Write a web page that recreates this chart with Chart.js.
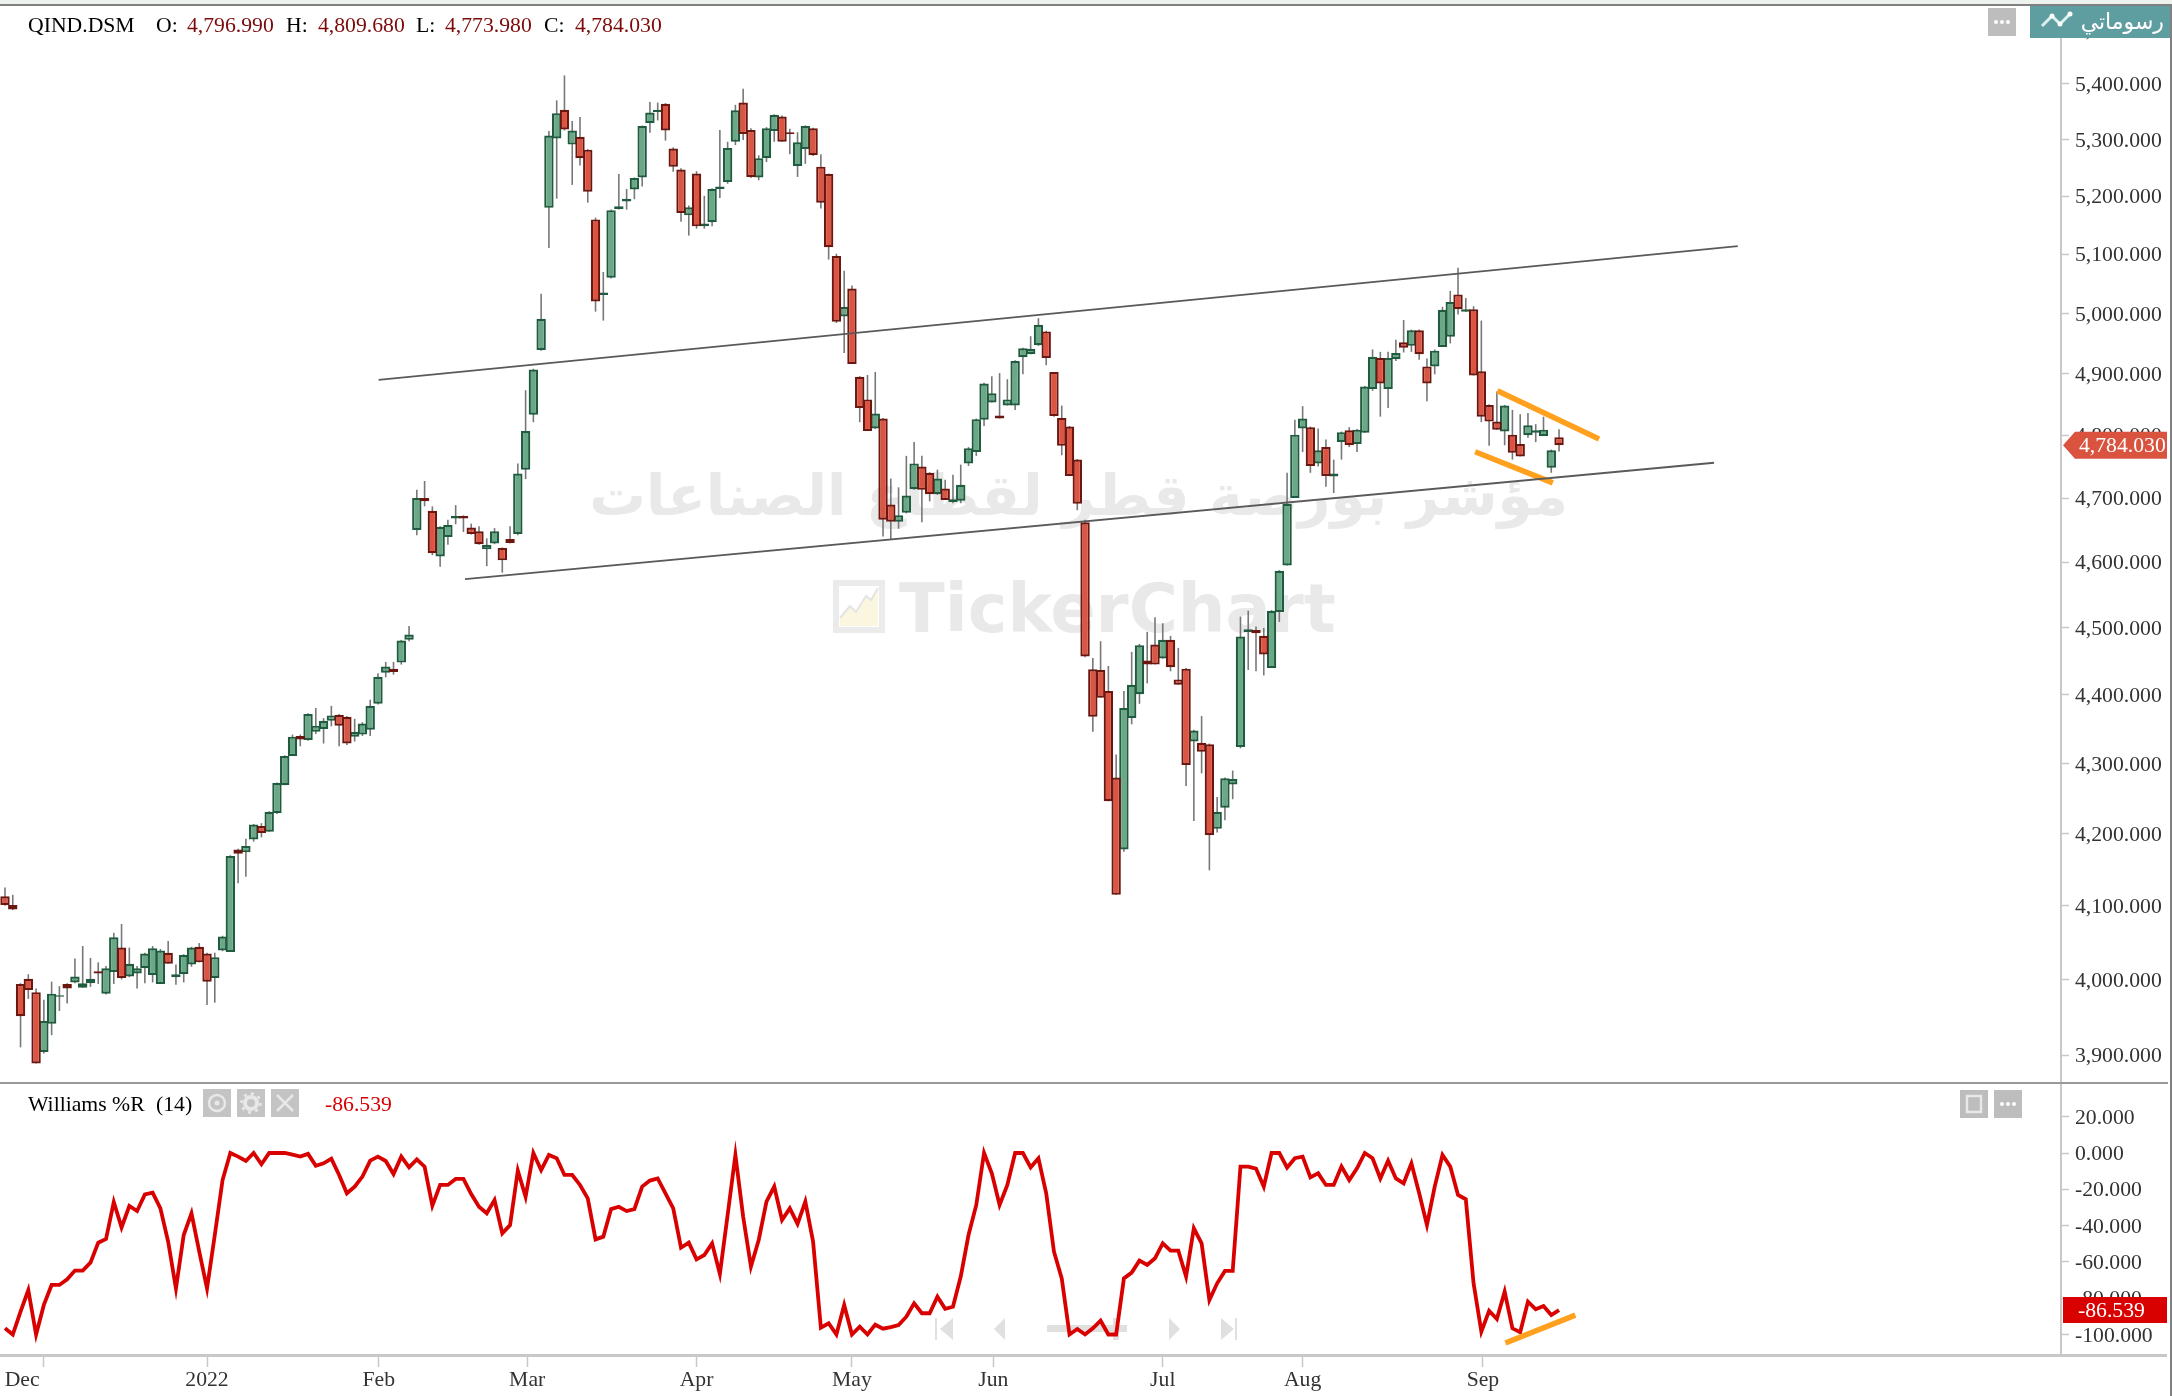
<!DOCTYPE html>
<html lang="ar"><head><meta charset="utf-8">
<title>QIND.DSM</title>
<script src="https://cdn.jsdelivr.net/npm/chart.js@4/dist/chart.umd.js"></script>
<style>
html,body{margin:0;padding:0;background:#fff;width:2172px;height:1396px;overflow:hidden}
#stage{position:relative;width:2172px;height:1396px;overflow:hidden;font-family:'Liberation Serif',serif;font-size:21.7px}
canvas{position:absolute;left:0}
#c1{top:0;z-index:2}#c2{top:1083px;z-index:2}
.t{position:absolute;white-space:pre;line-height:24px;z-index:3}
.wm{position:absolute;white-space:pre;color:#e9e9e9;font-family:'DejaVu Sans',sans-serif;font-weight:bold;z-index:1}
.k{color:#000}.v{color:#7d0a0a}
svg{position:absolute;left:0;top:0}
</style></head><body><div id="stage">
<svg id="under" width="2172" height="1396" style="z-index:1">
 <g fill="none" stroke="#ebebeb" stroke-width="6"><rect x="836" y="583" width="46" height="47"/></g>
 <path d="M840 626 L840 618 L850 606 L856 612 L866 596 L871 600 L878 588 L878 626 Z" fill="#fbf6e0"/>
 <polyline points="840,618 850,606 856,612 866,596 871,600 878,588" fill="none" stroke="#e4e4e4" stroke-width="2"/>
 <g fill="#e0e0e0">
  <rect x="935" y="1318" width="2" height="22"/><path d="M953 1318V1340L940 1329Z"/>
  <path d="M1005 1318V1340L994 1329Z"/>
  <rect x="1047" y="1325" width="80" height="7"/><rect x="1113" y="1318" width="6" height="22"/>
  <path d="M1169 1318V1340L1180 1329Z"/>
  <path d="M1221 1318V1340L1234 1329Z"/><rect x="1235" y="1318" width="2" height="22"/>
 </g>
</svg>
<div class="wm" style="left:598px;top:451px;width:970px;text-align:center;font-size:56.5px;line-height:90px" dir="rtl">مؤشر بورصة قطر لقطاع الصناعات</div>
<div class="wm" style="left:899px;top:569px;font-size:67px;line-height:80px">TickerChart</div>
<canvas id="c1" width="2172" height="1083"></canvas>
<canvas id="c2" width="2172" height="313"></canvas>
<svg id="chrome" width="2172" height="1396" style="z-index:3">
 <rect x="0" y="0" width="2172" height="4" fill="#eef2ee"/>
 <rect x="0" y="4" width="2172" height="2" fill="#808080"/>
 <rect x="2170" y="4" width="2" height="1392" fill="#808080"/>
 <rect x="0" y="1082" width="2168" height="2" fill="#999"/>
 <rect x="2061" y="1354" width="106" height="3" fill="#c8c8c8"/>
 <rect x="2030" y="6" width="140" height="32" fill="#5f9ea0"/>
 <polyline points="2042,26 2052,16 2060,24 2070,14" fill="none" stroke="#dfeeee" stroke-width="3"/>
 <g fill="#fff"><circle cx="2052" cy="16" r="2.5"/><circle cx="2060" cy="24" r="2.5"/><circle cx="2070" cy="14" r="2.5"/></g>
 <rect x="1988" y="8" width="28" height="28" fill="#bdbdbd"/>
 <g fill="#fff"><circle cx="1996" cy="22" r="2"/><circle cx="2002" cy="22" r="2"/><circle cx="2008" cy="22" r="2"/></g>
 <rect x="203" y="1089" width="28" height="28" fill="#c4c4c4"/>
 <circle cx="217" cy="1103" r="8" fill="none" stroke="#e8e8e8" stroke-width="2.5"/><circle cx="217" cy="1103" r="2.5" fill="#e8e8e8"/>
 <rect x="237" y="1089" width="28" height="28" fill="#c4c4c4"/>
 <circle cx="251" cy="1103" r="6" fill="none" stroke="#e8e8e8" stroke-width="4"/>
 <circle cx="251" cy="1103" r="9.5" fill="none" stroke="#e8e8e8" stroke-width="2.5" stroke-dasharray="3 4.4"/>
 <rect x="271" y="1089" width="28" height="28" fill="#c4c4c4"/>
 <path d="M277 1095L293 1111M293 1095L277 1111" stroke="#e8e8e8" stroke-width="2.5"/>
 <rect x="1960" y="1090" width="28" height="28" fill="#bdbdbd"/>
 <rect x="1967" y="1096" width="14" height="16" fill="none" stroke="#e8e8e8" stroke-width="2.5"/>
 <rect x="1994" y="1090" width="28" height="28" fill="#bdbdbd"/>
 <g fill="#fff"><circle cx="2002" cy="1104" r="2"/><circle cx="2008" cy="1104" r="2"/><circle cx="2014" cy="1104" r="2"/></g>
</svg>
<div class="t" style="left:28px;top:13px"><span class="k">QIND.DSM</span></div>
<div class="t k" style="left:156px;top:13px">O:</div><div class="t v" style="left:187px;top:13px">4,796.990</div>
<div class="t k" style="left:286px;top:13px">H:</div><div class="t v" style="left:318px;top:13px">4,809.680</div>
<div class="t k" style="left:416px;top:13px">L:</div><div class="t v" style="left:445px;top:13px">4,773.980</div>
<div class="t k" style="left:544px;top:13px">C:</div><div class="t v" style="left:575px;top:13px">4,784.030</div>
<div class="t k" style="left:28px;top:1092px">Williams %R</div>
<div class="t k" style="left:156px;top:1092px">(14)</div>
<div class="t" style="left:325px;top:1092px;color:#d90000">-86.539</div>
<div class="t" dir="rtl" style="left:2078px;top:6px;width:86px;line-height:32px;color:#fff;font-family:'DejaVu Sans',sans-serif;font-size:22px;text-align:right">رسوماتي</div>
</div>
<script>
const opens=[4113,4101,3994,4001,3983,3904,3941,3977,3994,3996,
3989,3995,4011,3981,4010,4043,4004,4008,4015,4006,
3994,4036,4003,4007,4020,4044,4035,4002,4039,4037,
4178,4174,4192,4211,4203,4229,4269,4311,4340,4334,
4346,4350,4362,4371,4368,4339,4342,4349,4387,4433,
4439,4448,4482,4650,4700,4680,4609,4639,4668,4672,
4654,4648,4620,4629,4622,4636,4644,4745,4833,4939,
5180,5302,5353,5291,5305,5282,5160,5031,5060,5178,
5191,5212,5233,5329,5349,5364,5284,5247,5167,5240,
5148,5155,5213,5225,5296,5366,5317,5233,5267,5315,
5341,5313,5253,5283,5320,5252,5239,5097,4995,5042,
4895,4858,4811,4827,4690,4663,4677,4714,4750,4740,
4706,4715,4694,4696,4755,4773,4825,4853,4832,4848,
4848,4927,4932,4947,4970,4903,4828,4814,4761,4662,
4438,4437,4406,4280,4178,4366,4401,4451,4475,4454,
4482,4423,4439,4332,4330,4328,4207,4237,4270,4324,
4494,4497,4488,4440,4524,4595,4700,4811,4813,4755,
4781,4734,4789,4808,4786,4804,4875,4926,4875,4924,
4952,4946,4972,4912,4912,4944,4961,5032,5003,5007,
4904,4849,4822,4806,4801,4786,4800,4804,4799,4748,4796.99];
const closes=[4101,4095,3951,3986,3889,3945,3981,3979,3988,4004,
3995,4001,4008,4015,4057,4002,4021,4015,4035,4042,
4039,4021,4007,4033,4043,4023,3997,4030,4058,4169,
4172,4183,4213,4201,4231,4272,4311,4339,4335,4372,
4355,4362,4370,4355,4329,4346,4358,4384,4427,4442,
4434,4481,4490,4700,4695,4614,4655,4658,4672,4668,
4644,4628,4627,4648,4603,4630,4739,4807,4907,4991,
5307,5347,5318,5316,5267,5208,5020,5035,5176,5183,
5196,5232,5324,5348,5353,5316,5252,5171,5181,5148,
5153,5213,5217,5285,5352,5310,5234,5267,5320,5344,
5296,5310,5295,5324,5272,5189,5112,4986,5011,4916,
4844,4807,4835,4666,4663,4673,4704,4755,4713,4706,
4731,4697,4698,4721,4779,4826,4884,4868,4827,4858,
4921,4942,4941,4981,4926,4831,4783,4735,4691,4457,
4368,4396,4246,4115,4381,4415,4474,4445,4445,4482,
4441,4415,4298,4348,4317,4198,4231,4279,4278,4487,
4498,4492,4460,4526,4587,4691,4801,4827,4751,4776,
4735,4739,4805,4784,4809,4879,4928,4884,4926,4934,
4943,4972,4932,4884,4938,5006,5019,5007,5007,4897,
4830,4822,4809,4848,4772,4766,4816,4808,4809,4776,4784.03];
const highs=[4125,4115,3995,4007,3988,3973,3997,3991,3995,4028,
4045,4029,4023,4018,4063,4075,4043,4018,4036,4045,
4041,4052,4020,4034,4044,4049,4036,4036,4059,4170,
4179,4193,4214,4215,4232,4273,4312,4342,4342,4373,
4381,4366,4384,4372,4369,4365,4360,4393,4432,4449,
4449,4482,4503,4713,4727,4687,4656,4666,4689,4673,
4660,4656,4637,4653,4623,4656,4755,4873,4908,5033,
5315,5370,5415,5333,5340,5283,5163,5070,5177,5239,
5213,5233,5325,5367,5366,5365,5286,5249,5184,5244,
5201,5214,5317,5296,5362,5391,5320,5272,5322,5345,
5343,5319,5313,5325,5321,5274,5240,5101,5072,5047,
4896,4898,4903,4828,4731,4717,4767,4789,4767,4741,
4745,4729,4737,4753,4781,4827,4885,4896,4901,4891,
4922,4943,4962,4992,4971,4903,4848,4815,4762,4666,
4455,4480,4443,4313,4406,4464,4476,4494,4516,4507,
4488,4470,4440,4349,4369,4329,4252,4280,4290,4517,
4526,4502,4500,4527,4588,4740,4825,4847,4814,4811,
4793,4761,4806,4813,4810,4880,4940,4936,4936,4956,
4989,4973,4973,4925,4940,5011,5038,5077,5026,5012,
4988,4850,4871,4849,4841,4834,4836,4818,4830,4777,4809.68];
const lows=[4100,4094,3910,3974,3889,3902,3926,3958,3968,3995,
3989,3990,3994,3980,3994,4000,4003,3988,3995,3996,
3994,4021,3993,3996,4017,4023,3966,3969,4038,4037,
4131,4140,4189,4195,4203,4228,4269,4311,4325,4333,
4343,4329,4354,4325,4327,4332,4340,4340,4386,4426,
4430,4445,4480,4642,4687,4611,4593,4627,4659,4647,
4643,4627,4594,4628,4584,4629,4642,4730,4821,4938,
5111,5196,5316,5220,5254,5189,5003,4988,5059,5177,
5177,5195,5217,5312,5334,5298,5243,5156,5132,5144,
5144,5148,5197,5222,5290,5299,5232,5228,5260,5296,
5296,5274,5234,5257,5271,5179,5091,4984,4934,4916,
4821,4807,4810,4640,4636,4652,4676,4713,4662,4695,
4705,4697,4692,4692,4751,4767,4815,4853,4827,4848,
4841,4899,4932,4946,4914,4830,4768,4735,4681,4456,
4346,4396,4246,4115,4175,4357,4387,4417,4445,4454,
4435,4415,4268,4218,4286,4149,4202,4219,4249,4322,
4437,4435,4429,4440,4509,4595,4700,4773,4740,4750,
4718,4708,4761,4781,4773,4804,4872,4830,4844,4921,
4935,4936,4923,4855,4899,4944,4950,4998,5003,4897,
4821,4783,4809,4784,4761,4766,4796,4789,4799,4740,4773.98];
const williams=[-96.6,-100,-87.4,-75.5,-100,-83.7,-72.7,-72.7,-69.6,-64.8,
-64.8,-60.4,-49.4,-47.4,-27,-41,-29.2,-32,-22.8,-21.9,
-30.5,-48.9,-74.6,-45.2,-33.2,-54.4,-74.6,-45.2,-14.9,0,
-2,-4.4,0,-6.2,0,0,0,-0.9,-2,-0.5,
-7,-5.7,-3.1,-12.1,-22.2,-18.5,-13,-4.2,-2,-4.4,
-11.6,-2,-7.9,-3.5,-7.5,-29,-17.6,-17.6,-14.3,-14.3,
-22.6,-29.6,-33.2,-25.9,-44.3,-39.7,-9.7,-24.1,0,-9.4,
-1.1,-2.9,-12.1,-12.1,-17.6,-25,-47.6,-46.1,-30.9,-29.6,
-32,-30.9,-18.5,-15.2,-14,-22.2,-30.5,-52.2,-49.4,-58.6,
-56.2,-49.8,-66.7,-34.2,-1.1,-35.1,-62.6,-47.9,-26.8,-18.5,
-36.9,-30.5,-39.1,-26.8,-48.9,-96.2,-93.8,-100,-83.7,-100,
-95.7,-100,-94.6,-96.8,-95.9,-94.8,-90.2,-82.8,-88.3,-88.3,
-79.2,-85.8,-84.7,-68.1,-45.2,-28.6,0,-11.2,-28.6,-17.6,
0,0,-7.9,-2.9,-22.2,-54.4,-69.1,-100,-97,-100,
-96.6,-92.4,-100,-100,-69.1,-65.9,-59.3,-61.7,-58,-49.8,
-53.8,-53.8,-68.1,-41.5,-49.8,-81,-71.8,-65,-65,-7.5,
-7.5,-8.6,-18.5,0,0,-8.1,-2.9,-2,-13.4,-11.2,
-17.6,-17.6,-7.5,-14.9,-8.4,0,-2.9,-14,-4.2,-14,
-16.7,-5.7,-22.2,-39.7,-18.5,-1.1,-7.5,-23.1,-25.5,-71.8,
-98.4,-86.9,-91.5,-76.4,-96.6,-98.8,-81.9,-86.1,-84.3,-89.3,-86.539];

const priceTicks=[3900,4000,4100,4200,4300,4400,4500,4600,4700,4800,4900,5000,5100,5200,5300,5400,5500];
const williamsTicks=[-100,-80,-60,-40,-20,0,20];
const monthLabels=['Dec','','2022','Feb','Mar','Apr','May','Jun','Jul','Aug','Sep'];
const monthBars=[2.2,5,26,48.1,67.2,89,109,127.2,149,167,190.2];

const upperChannel=[{x:48.08,y:4890},{x:223,y:5114}];
const lowerChannel=[{x:59.2,y:4574},{x:219.95,y:4756}];
const wedgeTop=[{x:192.06,y:4872},{x:205.15,y:4794}];
const wedgeBottom=[{x:189.2,y:4773.5},{x:199.2,y:4724}];
const divergence=[{x:193.1,y:-104.7},{x:202.1,y:-89.3}];

const xMin=-0.6435,xMax=264.6,priceMin=3863.6,priceMax=5553.6,wMin=-111.3,wMax=38.57;

const AXIS='#c8c8c8',TEXT='#333',FONT={family:"'Liberation Serif',serif",size:21.7};
Chart.defaults.font.family=FONT.family;
const fmt=v=>v.toLocaleString('en-US',{minimumFractionDigits:3,maximumFractionDigits:3});
const idx=opens.map((_,i)=>i);
const up=idx.filter(i=>closes[i]>=opens[i]), down=idx.filter(i=>closes[i]<opens[i]);
const base={type:'bar',barThickness:9.4,borderWidth:2.2,borderSkipped:false,inflateAmount:0,grouped:false};
const yAxisCommon=(ticks)=>({
  position:'right',
  afterBuildTicks:s=>{s.ticks=ticks.map(v=>({value:v}));},
  afterFit:s=>{s.width=111;s.paddingTop=0;s.paddingBottom=0;},
  border:{color:AXIS,width:2},
  grid:{drawOnChartArea:false,drawTicks:true,tickLength:8,tickColor:AXIS,tickWidth:1.5},
  ticks:{font:FONT,color:TEXT,padding:6,labelOffset:1.4,autoSkip:false,maxRotation:0,callback:v=>fmt(v)}
});
function badge(scaleId,value,text,color,textX,arrow){return {id:'badge',afterDraw(c){
  const y=c.scales[scaleId].getPixelForValue(value),g=c.ctx;
  g.save();g.fillStyle=color;g.beginPath();
  if(arrow){g.moveTo(2063,y);g.lineTo(2075,y-13.5);g.lineTo(2167,y-13.5);g.lineTo(2167,y+13.5);g.lineTo(2075,y+13.5);}
  else{g.rect(2063,y-13,104,26);}
  g.closePath();g.fill();
  g.fillStyle='#fff';g.font="21.7px 'Liberation Serif',serif";g.textAlign='left';g.textBaseline='middle';
  g.fillText(text,textX,y+1);g.restore();
}};}

new Chart(document.getElementById('c1'),{
  data:{datasets:[
    {type:'line',data:upperChannel,borderColor:'#5a5a5a',borderWidth:1.8,pointRadius:0,order:0},
    {type:'line',data:lowerChannel,borderColor:'#5a5a5a',borderWidth:1.8,pointRadius:0,order:0},
    {type:'line',data:wedgeTop,borderColor:'#ffa01e',borderWidth:5.5,pointRadius:0,order:0},
    {type:'line',data:wedgeBottom,borderColor:'#ffa01e',borderWidth:5.5,pointRadius:0,order:0},
    {...base,data:down.map(i=>({x:i,y:[closes[i],opens[i]]})),backgroundColor:'#dc5543',borderColor:'#6b1710',order:1},
    {...base,data:up.map(i=>({x:i,y:[opens[i],closes[i]]})),backgroundColor:'#6ba888',borderColor:'#1f5b3f',order:2},
    {...base,barThickness:1.6,borderWidth:0,data:idx.map(i=>({x:i,y:[lows[i],highs[i]]})),backgroundColor:'#787878',order:3}
  ]},
  options:{responsive:false,animation:false,devicePixelRatio:1,events:[],
    layout:{padding:0},
    plugins:{legend:{display:false},tooltip:{enabled:false}},
    scales:{
      x:{type:'linear',display:false,min:xMin,max:xMax,offset:false,grid:{offset:false}},
      y:{type:'logarithmic',min:priceMin,max:priceMax,...yAxisCommon(priceTicks)}
    }},
  plugins:[badge('y',closes[closes.length-1],fmt(closes[closes.length-1]),'#d9533f',2079,true)]
});

new Chart(document.getElementById('c2'),{
  data:{datasets:[
    {type:'line',data:divergence,borderColor:'#ffa01e',borderWidth:5.5,pointRadius:0,order:0},
    {type:'line',data:williams.map((v,i)=>({x:i,y:v})),borderColor:'#d90000',borderWidth:3.8,pointRadius:0,tension:0,order:1,borderJoinStyle:'miter'}
  ]},
  options:{responsive:false,animation:false,devicePixelRatio:1,events:[],
    layout:{padding:0},
    plugins:{legend:{display:false},tooltip:{enabled:false}},
    scales:{
      x:{type:'linear',position:'bottom',min:xMin,max:xMax,offset:false,
        afterBuildTicks:s=>{s.ticks=monthBars.map(v=>({value:v}));},
        afterFit:s=>{s.height=41;s.paddingLeft=0;s.paddingRight=0;},
        border:{color:AXIS,width:3},
        grid:{drawOnChartArea:false,offset:false,tickLength:12,tickWidth:1.5,
          tickColor:c=>monthLabels[c.index]==='Dec'?'rgba(0,0,0,0)':AXIS},
        ticks:{font:FONT,color:TEXT,padding:0,autoSkip:false,maxRotation:0,minRotation:0,
          callback:(v,i)=>monthLabels[i]}},
      y:{type:'linear',min:wMin,max:wMax,...yAxisCommon(williamsTicks)}
    }},
  plugins:[badge('y',williams[williams.length-1],fmt(williams[williams.length-1]),'#d90000',2078,false)]
});
</script>
</body></html>
